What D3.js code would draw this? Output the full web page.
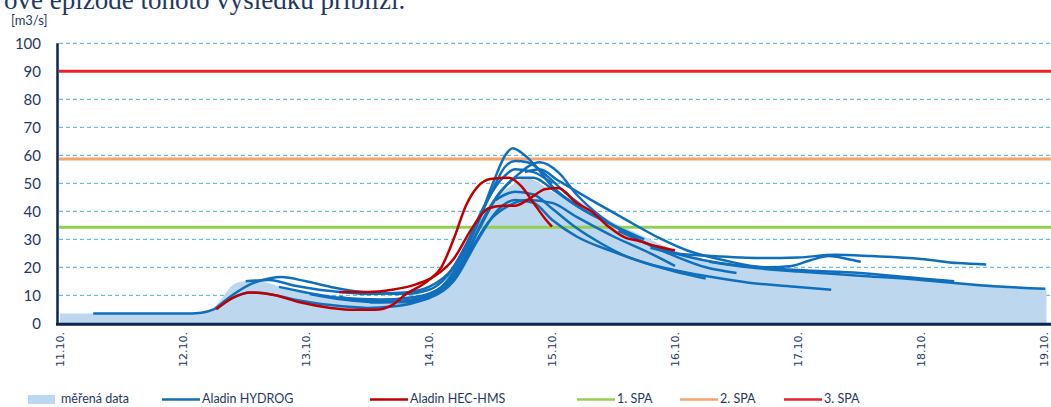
<!DOCTYPE html>
<html lang="cs">
<head>
<meta charset="UTF-8">
<title>Průtok</title>
<style>
  body { margin: 0; background: #fff; }
  svg text { font-family: Lato, "Open Sans", sans-serif; }
</style>
</head>
<body>
<svg id="chart" width="1051" height="407"></svg>
<script src="https://d3js.org/d3.v7.min.js"></script>
<script>
// measured flow (day of October, m3/s)
var measuredDays = [11.0, 11.5, 12.0, 12.2, 12.3, 12.4, 12.5, 12.6, 12.8, 13.0, 13.2, 13.5, 13.8, 14.0, 14.1, 14.2, 14.3, 14.4, 14.5, 14.6, 14.7, 14.78, 14.9, 15.0, 15.2, 15.5, 15.7, 16.0, 16.3, 16.7, 17.0, 17.5, 18.0, 18.5, 19.02];
var measuredFlow = [3.5, 3.5, 3.5, 4, 8, 13.5, 15, 15, 13, 11, 9.5, 8, 8, 10, 13, 20, 28, 36, 43, 47, 50, 52, 50, 47, 44, 36, 32, 26, 22, 20, 18.5, 17, 15.5, 14, 12.5];

// Aladin HYDROG forecasts: [day, flow]
var hydrogRuns = [
  [[11.27, 3.5], [12.0, 3.5], [12.15, 3.8], [12.25, 5], [12.4, 9], [12.55, 11], [12.7, 10.5], [12.9, 8.5], [13.2, 6.5], [13.5, 5.5], [13.7, 6], [13.85, 7], [14.0, 9]],
  [[12.27, 5.5], [12.4, 10], [12.55, 14], [12.7, 16], [12.8, 16.5], [13.0, 15], [13.2, 13], [13.5, 11], [13.8, 10.5], [14.0, 12], [14.15, 17], [14.3, 28], [14.45, 42], [14.6, 52], [14.7, 55], [14.85, 54], [15.0, 50]],
  [[12.51, 15], [12.7, 15.5], [12.9, 13.5], [13.2, 11.5], [13.5, 10.5], [13.8, 11], [14.0, 13], [14.2, 20], [14.35, 32], [14.5, 46], [14.62, 56], [14.7, 58], [14.8, 57.5], [14.95, 53], [15.1, 47], [15.24, 42]],
  [[12.78, 13], [13.0, 11], [13.3, 9], [13.6, 8.5], [13.9, 9.5], [14.1, 13], [14.25, 22], [14.4, 36], [14.52, 50], [14.62, 60], [14.68, 62.5], [14.75, 61], [14.85, 57], [15.0, 49], [15.2, 42], [15.5, 35]],
  [[13.03, 10.5], [13.3, 8.5], [13.6, 7.5], [13.9, 8.5], [14.1, 12], [14.3, 24], [14.45, 38], [14.6, 48], [14.72, 52], [14.85, 52], [15.0, 48], [15.2, 42], [15.5, 35], [15.75, 30]],
  [[13.27, 9.5], [13.5, 8], [13.8, 8], [14.0, 10], [14.2, 16], [14.35, 27], [14.5, 37], [14.65, 42], [14.8, 44], [15.0, 43], [15.2, 38], [15.5, 31], [15.8, 25], [16.0, 20.5]],
  [[13.52, 7.5], [13.8, 7.5], [14.0, 9], [14.2, 15], [14.4, 30], [14.55, 40], [14.7, 44], [14.85, 43], [15.0, 37], [15.2, 31], [15.5, 25.5], [15.8, 21], [16.0, 18.5], [16.25, 16]],
  [[13.77, 8], [14.0, 10], [14.2, 17], [14.4, 33], [14.55, 45], [14.72, 53], [14.9, 57.5], [15.05, 54], [15.2, 46], [15.4, 38], [15.7, 30], [16.0, 24], [16.25, 20], [16.5, 18]],
  [[14.54, 44], [14.7, 47], [14.85, 46], [15.0, 41], [15.2, 34], [15.4, 28.5], [15.6, 24], [15.8, 21], [16.0, 19], [16.3, 16.5], [16.6, 14.5], [17.0, 13], [17.27, 12]],
  [[14.78, 54], [14.9, 55], [15.05, 51], [15.32, 44], [15.6, 37], [15.87, 30.5], [16.1, 26], [16.4, 22.5], [16.75, 20], [16.95, 20.5], [17.1, 22.5], [17.25, 24], [17.4, 23], [17.51, 22]],
  [[15.54, 33], [15.8, 28], [16.0, 25], [16.3, 22], [16.7, 20], [17.0, 19], [17.5, 18], [18.0, 16], [18.27, 15]],
  [[15.8, 27], [16.0, 25], [16.3, 24], [16.7, 23.3], [17.0, 23.5], [17.3, 24.5], [17.6, 24], [18.0, 23], [18.3, 21.5], [18.53, 21]],
  [[16.28, 22], [16.6, 20], [17.0, 18.5], [17.5, 17], [18.0, 15.5], [18.5, 13.5], [19.01, 12.3]]
];

// Aladin HEC-HMS forecasts: [day, flow]
var hecRuns = [
  [[12.27, 5], [12.4, 9], [12.55, 11], [12.75, 10], [12.95, 7.5], [13.2, 5.5], [13.4, 4.8], [13.56, 4.8], [13.7, 6.5], [13.8, 10], [14.0, 15.5], [14.1, 20], [14.2, 30], [14.3, 42], [14.4, 49], [14.5, 51.5], [14.65, 52], [14.75, 49], [14.85, 43], [14.95, 37], [15.0, 34.5]],
  [[13.27, 11.2], [13.5, 11.2], [13.7, 12], [13.9, 14], [14.05, 17], [14.2, 23], [14.35, 34], [14.48, 41], [14.6, 42], [14.7, 42], [14.8, 44], [14.95, 48], [15.05, 48.3], [15.2, 43], [15.32, 40], [15.46, 34.5], [15.6, 30.5], [15.7, 29.5], [15.85, 27.5], [16.0, 26]]
];

// flood activity levels (SPA)
var spaNames = ["1. SPA", "2. SPA", "3. SPA"];
var spaLevels = [34.3, 58.7, 90];

var yTicks = [0, 10, 20, 30, 40, 50, 60, 70, 80, 90, 100];
var xTicks = [11, 12, 13, 14, 15, 16, 17, 18, 19];
var xTickLabels = ["11.10.", "12.10.", "13.10.", "14.10.", "15.10.", "16.10.", "17.10.", "18.10.", "19.10."];

var navy = "#1f3864";
var spaColors = ["#92d050", "#f4a46c", "#e8222a"];
var hydrogColor = "#0f6fbd";
var hecColor = "#c00000";
var areaColor = "#bdd7ee";

var svg = d3.select("#chart");

var x = d3.scaleLinear().domain([11, 19]).range([60, 1044]);
var y = d3.scaleLinear().domain([0, 100]).range([323.3, 43.3]);

// cut-off heading text at top
svg.append("text")
  .attr("x", 4).attr("y", 9)
  .style("font-family", "'Liberation Serif', serif")
  .style("font-size", "27px")
  .attr("fill", navy)
  .text("ové epizodě tohoto výsledku přiblíží.");

svg.append("text")
  .attr("x", 11).attr("y", 25)
  .style("font-size", "13px")
  .attr("fill", navy)
  .text("[m3/s]");

// gridlines
svg.append("g")
  .selectAll("line")
  .data(yTicks.filter(d => d > 0))
  .join("line")
  .attr("x1", 59).attr("x2", 1051)
  .attr("y1", d => y(d)).attr("y2", d => y(d))
  .attr("stroke", "#47b0d4")
  .attr("stroke-width", 1)
  .attr("stroke-dasharray", "4,3");

// y labels
svg.append("g")
  .selectAll("text")
  .data(yTicks)
  .join("text")
  .attr("x", 41)
  .attr("y", d => y(d))
  .attr("dy", "0.35em")
  .attr("text-anchor", "end")
  .style("font-size", "15px")
  .attr("fill", navy)
  .text(d => d);

// measured area
var measured = measuredDays.map((d, i) => [d, measuredFlow[i]]);
svg.append("path")
  .datum(measured)
  .attr("fill", areaColor)
  .attr("d", d3.area()
    .x(d => x(d[0]))
    .y0(y(0))
    .y1(d => y(d[1]))
    .curve(d3.curveMonotoneX));

// SPA levels
svg.append("g")
  .selectAll("line")
  .data(spaLevels)
  .join("line")
  .attr("x1", 59).attr("x2", 1051)
  .attr("y1", d => y(d)).attr("y2", d => y(d))
  .attr("stroke", (d, i) => spaColors[i])
  .attr("stroke-width", 3);

var line = d3.line()
  .x(d => x(d[0]))
  .y(d => y(d[1]))
  .curve(d3.curveMonotoneX);

svg.append("g")
  .selectAll("path")
  .data(hydrogRuns)
  .join("path")
  .attr("fill", "none")
  .attr("stroke", hydrogColor)
  .attr("stroke-width", 2.5)
  .attr("d", line);

svg.append("g")
  .selectAll("path")
  .data(hecRuns)
  .join("path")
  .attr("fill", "none")
  .attr("stroke", hecColor)
  .attr("stroke-width", 2.5)
  .attr("d", line);

// axes lines
svg.append("line")
  .attr("x1", 57.5).attr("x2", 57.5)
  .attr("y1", y(100)).attr("y2", y(0) + 1.5)
  .attr("stroke", "#0b2550").attr("stroke-width", 2.5);
svg.append("line")
  .attr("x1", 56).attr("x2", 1051)
  .attr("y1", y(0) + 1).attr("y2", y(0) + 1)
  .attr("stroke", "#0b2550").attr("stroke-width", 3);

// x labels, rotated
svg.append("g")
  .selectAll("text")
  .data(xTicks)
  .join("text")
  .attr("transform", d => "translate(" + x(d) + ",332) rotate(-90)")
  .attr("dy", "0.35em")
  .attr("text-anchor", "end")
  .style("font-family", "'DejaVu Sans', sans-serif")
  .style("font-size", "11px")
  .attr("fill", navy)
  .text((d, i) => xTickLabels[i]);

// legend
var lg = svg.append("g").style("font-size", "12.5px").attr("fill", navy);
lg.append("rect").attr("x", 28).attr("y", 395).attr("width", 27).attr("height", 9).attr("fill", areaColor);
lg.append("text").attr("x", 61).attr("y", 403).text("měřená data");

var legendLines = [
  { x: 162, color: hydrogColor, label: "Aladin HYDROG" },
  { x: 370, color: hecColor, label: "Aladin HEC-HMS" },
  { x: 577, color: spaColors[0], label: spaNames[0] },
  { x: 680, color: spaColors[1], label: spaNames[1] },
  { x: 784, color: spaColors[2], label: spaNames[2] }
];
legendLines.forEach(function (d) {
  lg.append("line")
    .attr("x1", d.x).attr("x2", d.x + 38)
    .attr("y1", 399.5).attr("y2", 399.5)
    .attr("stroke", d.color).attr("stroke-width", 2.5);
  lg.append("text").attr("x", d.x + 40).attr("y", 403).text(d.label);
});
</script>
</body>
</html>
